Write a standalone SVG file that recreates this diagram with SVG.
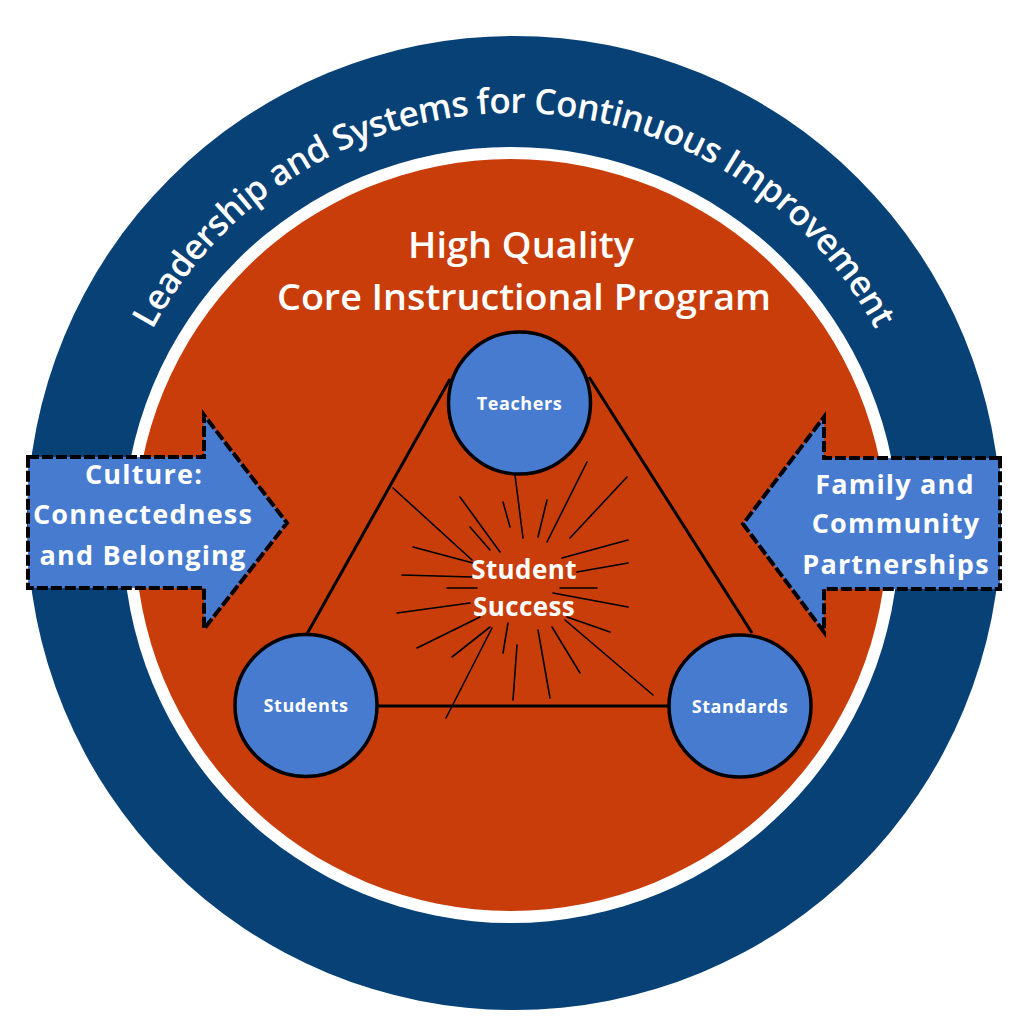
<svg xmlns="http://www.w3.org/2000/svg" width="1036" height="1030" viewBox="0 0 1036 1030">
<style>
.ring{font-family:"Open Sans","Liberation Sans",sans-serif;font-weight:600;fill:#fff}
.title{font-family:"Open Sans","Liberation Sans",sans-serif;font-weight:600;fill:#fff;font-size:36px;text-anchor:middle}
.node circle{fill:#467BCF;stroke:#000;stroke-width:3.5}
.node text{font-family:"Open Sans","Liberation Sans",sans-serif;font-weight:700;fill:#fff;font-size:18px;letter-spacing:0.6px;text-anchor:middle}
.arrow path{fill:#467BCF;stroke:#000;stroke-width:4;stroke-dasharray:11 3}
.arrow text{font-family:"Open Sans","Liberation Sans",sans-serif;font-weight:700;fill:#fff;font-size:27px;letter-spacing:1.2px;text-anchor:middle}
.center text{font-family:"Open Sans","Liberation Sans",sans-serif;font-weight:700;fill:#fff;font-size:26px;letter-spacing:0.4px;text-anchor:middle}
.edge{stroke:#000;stroke-width:3;fill:none}
.burst line{stroke:#000;stroke-width:1.6;stroke-linecap:round}
</style>
<defs>
<path id="arc" d="M104 523 A410 410 0 0 1 924 523"/>
</defs>
<g id="background">
<circle cx="514" cy="523" r="487" fill="#074176"/>
<circle cx="511" cy="535" r="388" fill="#fff"/>
<circle cx="511" cy="535" r="376" fill="#C93D0A"/>
</g>
<g id="ring-label">
<text class="ring" font-size="35"><textPath href="#arc" startOffset="50%" text-anchor="middle" textLength="885">Leadership and Systems for Continuous Improvement</textPath></text>
</g>
<g id="title">
<text class="title" x="521" y="258" textLength="226" lengthAdjust="spacingAndGlyphs">High Quality</text>
<text class="title" x="524" y="310" textLength="494" lengthAdjust="spacingAndGlyphs">Core Instructional Program</text>
</g>
<g id="connectors">
<line class="edge" x1="450" y1="379" x2="307" y2="634"/>
<line class="edge" x1="589" y1="377" x2="752" y2="633"/>
<line class="edge" x1="378" y1="706" x2="670" y2="706"/>
</g>
<g id="starburst" class="burst">
<line x1="393" y1="488" x2="472" y2="560"/>
<line x1="460" y1="497" x2="500" y2="552"/>
<line x1="470" y1="527" x2="490" y2="550"/>
<line x1="503" y1="502" x2="510" y2="527"/>
<line x1="515" y1="475" x2="523" y2="538"/>
<line x1="547" y1="500" x2="538" y2="537"/>
<line x1="587" y1="462" x2="547" y2="542"/>
<line x1="627" y1="477" x2="570" y2="538"/>
<line x1="628" y1="540" x2="562" y2="558"/>
<line x1="628" y1="563" x2="577" y2="572"/>
<line x1="597" y1="588" x2="560" y2="588"/>
<line x1="628" y1="607" x2="553" y2="593"/>
<line x1="610" y1="632" x2="567" y2="617"/>
<line x1="653" y1="695" x2="565" y2="620"/>
<line x1="580" y1="673" x2="552" y2="627"/>
<line x1="550" y1="698" x2="538" y2="630"/>
<line x1="513" y1="700" x2="517" y2="645"/>
<line x1="503" y1="653" x2="508" y2="623"/>
<line x1="446" y1="718" x2="492" y2="628"/>
<line x1="452" y1="657" x2="490" y2="627"/>
<line x1="417" y1="648" x2="480" y2="617"/>
<line x1="397" y1="613" x2="470" y2="603"/>
<line x1="447" y1="588" x2="477" y2="588"/>
<line x1="402" y1="575" x2="472" y2="577"/>
<line x1="413" y1="547" x2="473" y2="563"/>
</g>
<g id="student-success" class="center">
<text x="524" y="579">Student</text>
<text x="524" y="616">Success</text>
</g>
<g id="teachers" class="node">
<circle cx="519.5" cy="403" r="71"/>
<text x="519.5" y="409.5">Teachers</text>
</g>
<g id="students" class="node">
<circle cx="306" cy="705.5" r="71"/>
<text x="306" y="712">Students</text>
</g>
<g id="standards" class="node">
<circle cx="740" cy="706" r="71"/>
<text x="740" y="712.5">Standards</text>
</g>
<g id="culture" class="arrow">
<path d="M28 457 L204 457 L204 415 L287 523 L204 629 L204 588 L28 588 Z"/>
<text x="144" y="484">Culture:</text>
<text x="143" y="524">Connectedness</text>
<text x="143" y="565">and Belonging</text>
</g>
<g id="family" class="arrow">
<path d="M1000 458 L824 458 L824 417 L743 524 L824 632 L824 589 L1000 589 Z"/>
<text x="895" y="494">Family and</text>
<text x="896" y="533">Community</text>
<text x="896" y="574">Partnerships</text>
</g>
</svg>
